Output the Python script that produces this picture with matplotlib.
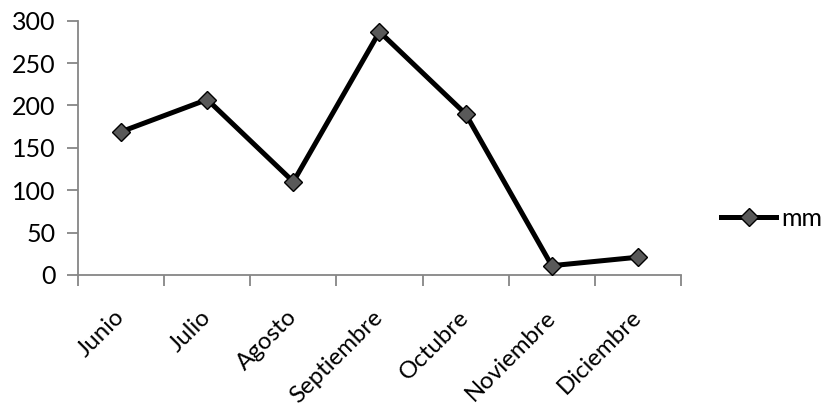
import matplotlib
matplotlib.use("Agg")
import matplotlib.pyplot as plt

meses = ["Junio", "Julio", "Agosto", "Septiembre", "Octubre", "Noviembre", "Diciembre"]
mm = [169, 207, 110, 287, 190, 11, 21]
y_ticks = [0, 50, 100, 150, 200, 250, 300]

plt.rcParams["font.family"] = ["Lato", "DejaVu Sans"]

W, H = 824, 409
fig = plt.figure(figsize=(W / 100, H / 100), dpi=100)
ax = fig.add_axes([78 / W, 1 - 275 / H, (681 - 78) / W, (275 - 20.7) / H])

x = list(range(len(meses)))
ax.plot(x, mm, color="black", lw=3.6, marker="D", ms=9.5,
        markerfacecolor="#595959", markeredgecolor="black", markeredgewidth=1.0,
        label="mm", solid_joinstyle="round", zorder=3)

ax.set_xlim(-0.5, len(meses) - 0.5)
ax.set_ylim(0, 300)

axis_col = "#868686"
for s in ["top", "right"]:
    ax.spines[s].set_visible(False)
for s in ["left", "bottom"]:
    ax.spines[s].set_color(axis_col)
    ax.spines[s].set_linewidth(1.3)

FS = 18
ax.set_yticks(y_ticks)
ax.set_yticklabels([str(v) for v in y_ticks], fontsize=FS)
ax.tick_params(axis="y", length=8, width=1.3, color=axis_col, pad=8)

# category labels at centres, boundary tick marks as minor ticks
ax.set_xticks(x)
ax.set_xticklabels(meses, fontsize=17.3, rotation=45, ha="right", va="center",
                   rotation_mode="anchor")
ax.tick_params(axis="x", which="major", length=0, pad=28)
ax.set_xticks([i - 0.5 for i in range(len(meses) + 1)], minor=True)
ax.tick_params(axis="x", which="minor", length=8, width=1.3, color=axis_col)

fig.legend(loc="center left", bbox_to_anchor=(721 / W, 1 - 218 / H),
           frameon=False, fontsize=FS, handlelength=2.2, handletextpad=0.2,
           borderpad=0, borderaxespad=0)

fig.savefig("out.png", dpi=100)
